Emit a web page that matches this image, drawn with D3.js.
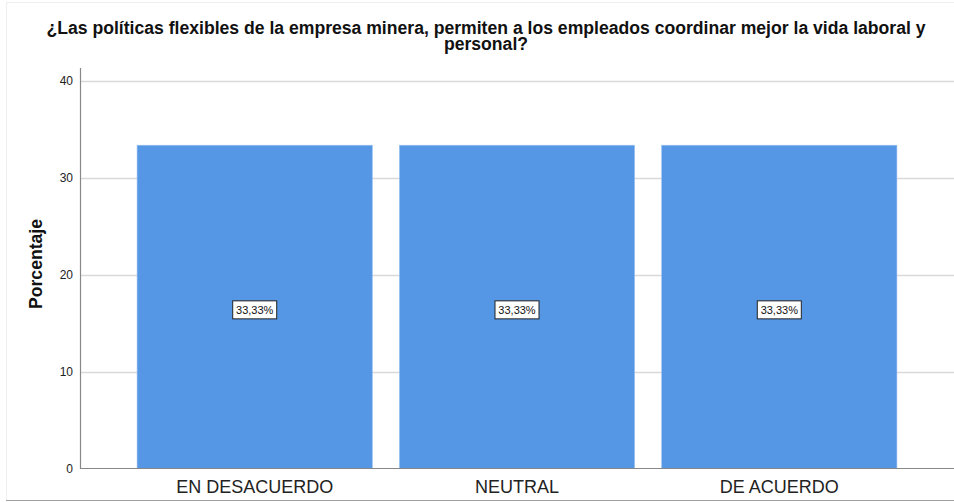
<!DOCTYPE html>
<html><head><meta charset="utf-8">
<script src="https://cdn.jsdelivr.net/npm/d3@7"></script>
<style>body{margin:0;background:#fff}svg{display:block;font-family:"Liberation Sans",Arial,sans-serif}</style>
</head><body>
<svg id="c" width="954" height="502"></svg>
<script>
const categories = ["EN DESACUERDO", "NEUTRAL", "DE ACUERDO"];
const values = [33.33, 33.33, 33.33];
const labels = ["33,33%", "33,33%", "33,33%"];
const yTicks = [0, 10, 20, 30, 40];
const titleLines = ["¿Las políticas flexibles de la empresa minera, permiten a los empleados coordinar mejor la vida laboral y", "personal?"];
const yTitle = "Porcentaje";

const svg = d3.select("#c");
// outer frame
svg.append("line").attr("x1",6).attr("x2",954).attr("y1",2.5).attr("y2",2.5).attr("stroke","#eeeeee");
svg.append("line").attr("x1",6.5).attr("x2",6.5).attr("y1",2).attr("y2",500).attr("stroke","#eeeeee");
svg.append("line").attr("x1",6).attr("x2",954).attr("y1",500.5).attr("y2",500.5).attr("stroke","#a0a0a0");

const x = d3.scaleBand().domain(categories).range([80, 954]).paddingInner(0.103).paddingOuter(0.2176);
const y = d3.scaleLinear().domain([0, 40]).range([468.5, 80.5]);

// gridlines
svg.append("g").selectAll("line").data(yTicks.filter(d=>d>0)).join("line")
  .attr("x1",80).attr("x2",954).attr("y1",d=>Math.round(y(d))+0.5).attr("y2",d=>Math.round(y(d))+0.5)
  .attr("stroke","#d9d9d9").attr("stroke-width",1.5);

// bars
svg.append("g").selectAll("rect").data(values).join("rect")
  .attr("x",(d,i)=>x(categories[i])).attr("width",x.bandwidth())
  .attr("y",d=>y(d)).attr("height",d=>y(0)-y(d))
  .attr("fill","#5596e5").attr("stroke","#9cc2f0").attr("stroke-width",0.6);

// axes
const yAxis = d3.axisLeft(y).tickValues(yTicks).tickSize(0).tickPadding(7);
const gy = svg.append("g").attr("transform","translate(80,0)").call(yAxis);
gy.select(".domain").remove();
gy.selectAll("text").attr("font-size",12).attr("fill","#222").attr("font-family","'Liberation Sans',Arial,sans-serif");
svg.append("line").attr("x1",80.5).attr("x2",80.5).attr("y1",68).attr("y2",469).attr("stroke","#888").attr("stroke-width",1.2);

const xAxis = d3.axisBottom(x).tickSize(0).tickPadding(10);
const gx = svg.append("g").attr("transform","translate(0,468.5)").call(xAxis);
gx.select(".domain").remove();
gx.selectAll("text").attr("font-size",18).attr("fill","#222").attr("dy",null).attr("y",24.5)
  .attr("font-family","'Liberation Sans',Arial,sans-serif");
svg.append("line").attr("x1",80).attr("x2",954).attr("y1",468.5).attr("y2",468.5).attr("stroke","#888").attr("stroke-width",1.2);

// data labels
const lg = svg.append("g").selectAll("g").data(values).join("g")
  .attr("transform",(d,i)=>`translate(${x(categories[i])+x.bandwidth()/2},${y(d/2)+3})`);
lg.append("rect").attr("x",-22).attr("y",-9).attr("width",44).attr("height",18)
  .attr("fill","#fff").attr("stroke","#222").attr("stroke-width",1);
lg.append("text").attr("text-anchor","middle").attr("dy","0.35em").attr("font-size",11).attr("fill","#111")
  .text((d,i)=>labels[i]);

// titles
svg.append("g").selectAll("text").data(titleLines).join("text")
  .attr("x",486).attr("y",(d,i)=>34+i*16).attr("text-anchor","middle")
  .attr("font-size",17.6).attr("font-weight","bold").attr("fill","#111").text(d=>d);

svg.append("text").attr("transform","translate(42,264) rotate(-90)").attr("text-anchor","middle")
  .attr("font-size",17.6).attr("font-weight","bold").attr("fill","#111").text(yTitle);
</script>
</body></html>
